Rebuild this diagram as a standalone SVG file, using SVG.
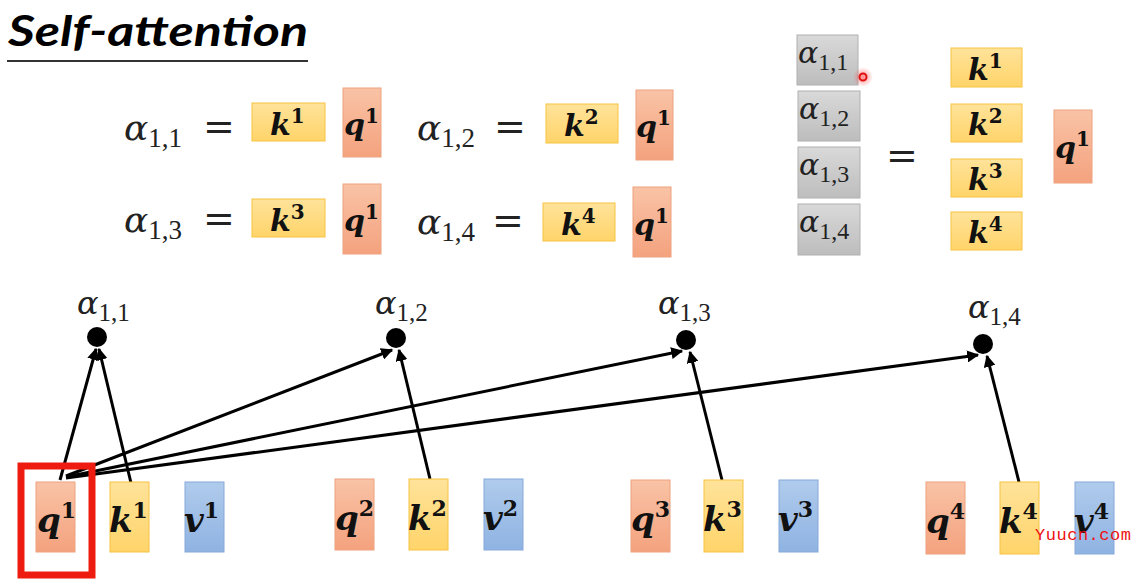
<svg xmlns="http://www.w3.org/2000/svg" width="1144" height="588" viewBox="0 0 1144 588">
<defs>
<linearGradient id="gq" x1="0" y1="0" x2="0" y2="1"><stop offset="0" stop-color="#f9c3a6"/><stop offset="1" stop-color="#f4a27e"/></linearGradient>
<linearGradient id="gk" x1="0" y1="0" x2="0" y2="1"><stop offset="0" stop-color="#ffe39a"/><stop offset="1" stop-color="#ffd46a"/></linearGradient>
<linearGradient id="gv" x1="0" y1="0" x2="0" y2="1"><stop offset="0" stop-color="#b0cbec"/><stop offset="1" stop-color="#8fb3e2"/></linearGradient>
<linearGradient id="gg" x1="0" y1="0" x2="0" y2="1"><stop offset="0" stop-color="#d9d9d9"/><stop offset="1" stop-color="#bdbdbd"/></linearGradient>
<radialGradient id="glow"><stop offset="0" stop-color="#ff4040" stop-opacity="0.6"/><stop offset="1" stop-color="#ff4040" stop-opacity="0"/></radialGradient>
<marker id="ah" viewBox="0 0 10 10" refX="9" refY="5" markerWidth="4" markerHeight="4" orient="auto"><path d="M0,0 L10,5 L0,10 z" fill="#000"/></marker>
</defs>
<style>
.q{fill:url(#gq);stroke:#eea27f;stroke-width:1}
.k{fill:url(#gk);stroke:#f6c342;stroke-width:1}
.v{fill:url(#gv);stroke:#86a9d9;stroke-width:1}
.g{fill:url(#gg);stroke:#b0b0b0;stroke-width:1}
.m{font-family:"DejaVu Serif","Liberation Serif",serif;font-weight:bold;font-style:italic;fill:#111}
.a{font-family:"DejaVu Serif","Liberation Serif",serif;font-style:italic;fill:#222}
.s{font-family:"Liberation Serif","DejaVu Serif",serif;font-style:normal;font-weight:normal}
.e{font-family:"DejaVu Sans",sans-serif;fill:#222}
.ln{stroke:#000;stroke-width:3;fill:none;marker-end:url(#ah)}
</style>
<rect width="1144" height="588" fill="#fff"/>

<g id="title">
<text x="8" y="46" font-family="Lato,'Open Sans',sans-serif" font-weight="bold" font-style="italic" font-size="42" fill="#000" textLength="300" lengthAdjust="spacingAndGlyphs">Self-attention</text>
<line x1="7" y1="61" x2="308" y2="61" stroke="#333" stroke-width="2"/>
</g>

<g id="eq1">
<text class="a" x="124" y="140" font-size="36">α<tspan class="s" font-size="27" dy="7">1,1</tspan></text>
<text class="e" x="203" y="139" font-size="38">=</text>
<rect class="k" x="252" y="103" width="73" height="38"/>
<text class="m" x="270" y="135" font-size="30">k<tspan font-size="20" dy="-12" font-style="normal">1</tspan></text>
<rect class="q" x="343" y="88" width="38" height="69"/>
<text class="m" x="344" y="135" font-size="30">q<tspan font-size="20" dy="-12" font-style="normal">1</tspan></text>
</g>
<g id="eq2">
<text class="a" x="417" y="140" font-size="36">α<tspan class="s" font-size="27" dy="7">1,2</tspan></text>
<text class="e" x="494" y="139" font-size="38">=</text>
<rect class="k" x="546" y="104" width="72" height="39"/>
<text class="m" x="564" y="136" font-size="30">k<tspan font-size="20" dy="-12" font-style="normal">2</tspan></text>
<rect class="q" x="636" y="90" width="37" height="70"/>
<text class="m" x="636" y="137" font-size="30">q<tspan font-size="20" dy="-12" font-style="normal">1</tspan></text>
</g>
<g id="eq3">
<text class="a" x="124" y="232" font-size="36">α<tspan class="s" font-size="27" dy="7">1,3</tspan></text>
<text class="e" x="203" y="231" font-size="38">=</text>
<rect class="k" x="252" y="199" width="73" height="38"/>
<text class="m" x="270" y="231" font-size="30">k<tspan font-size="20" dy="-12" font-style="normal">3</tspan></text>
<rect class="q" x="343" y="184" width="38" height="70"/>
<text class="m" x="344" y="231" font-size="30">q<tspan font-size="20" dy="-12" font-style="normal">1</tspan></text>
</g>
<g id="eq4">
<text class="a" x="417" y="234" font-size="36">α<tspan class="s" font-size="27" dy="7">1,4</tspan></text>
<text class="e" x="492" y="233" font-size="38">=</text>
<rect class="k" x="543" y="203" width="72" height="38"/>
<text class="m" x="561" y="235" font-size="30">k<tspan font-size="20" dy="-12" font-style="normal">4</tspan></text>
<rect class="q" x="633" y="187" width="38" height="70"/>
<text class="m" x="634" y="235" font-size="30">q<tspan font-size="20" dy="-12" font-style="normal">1</tspan></text>
</g>

<g id="matrix">
<rect class="g" x="797" y="35" width="61" height="50"/>
<text class="a" x="798" y="63" font-size="30">α<tspan class="s" font-size="24" dy="7">1,1</tspan></text>
<rect class="g" x="798" y="91" width="62" height="50"/>
<text class="a" x="799" y="119" font-size="30">α<tspan class="s" font-size="24" dy="7">1,2</tspan></text>
<rect class="g" x="798" y="147" width="62" height="51"/>
<text class="a" x="799" y="175" font-size="30">α<tspan class="s" font-size="24" dy="7">1,3</tspan></text>
<rect class="g" x="798" y="204" width="62" height="51"/>
<text class="a" x="799" y="232" font-size="30">α<tspan class="s" font-size="24" dy="7">1,4</tspan></text>
<text class="e" x="886" y="168" font-size="38">=</text>
<rect class="k" x="951" y="48" width="71" height="39"/>
<text class="m" x="968" y="80" font-size="30">k<tspan font-size="20" dy="-12" font-style="normal">1</tspan></text>
<rect class="k" x="951" y="104" width="71" height="38"/>
<text class="m" x="968" y="135" font-size="30">k<tspan font-size="20" dy="-12" font-style="normal">2</tspan></text>
<rect class="k" x="951" y="159" width="71" height="38"/>
<text class="m" x="968" y="190" font-size="30">k<tspan font-size="20" dy="-12" font-style="normal">3</tspan></text>
<rect class="k" x="951" y="212" width="71" height="38"/>
<text class="m" x="968" y="243" font-size="30">k<tspan font-size="20" dy="-12" font-style="normal">4</tspan></text>
<rect class="q" x="1054" y="110" width="38" height="73"/>
<text class="m" x="1055" y="158" font-size="30">q<tspan font-size="20" dy="-12" font-style="normal">1</tspan></text>
<circle cx="863" cy="77" r="10" fill="url(#glow)"/>
<circle cx="863" cy="77" r="3.5" fill="none" stroke="#e01010" stroke-width="2"/>
</g>

<g id="connectors">
<line class="ln" x1="60" y1="480" x2="96" y2="349"/>
<line class="ln" x1="131" y1="483" x2="99" y2="349"/>
<line class="ln" x1="66" y1="476" x2="392" y2="350"/>
<line class="ln" x1="66" y1="477" x2="682" y2="351"/>
<line class="ln" x1="66" y1="478" x2="978" y2="355"/>
<line class="ln" x1="430" y1="479" x2="399" y2="350"/>
<line class="ln" x1="722" y1="480" x2="690" y2="352"/>
<line class="ln" x1="1019" y1="482" x2="987" y2="356"/>
</g>

<g id="a11">
<circle cx="97" cy="337" r="10" fill="#000"/>
<text class="a" x="77" y="314" font-size="32">α<tspan class="s" font-size="25" dy="7">1,1</tspan></text>
</g>
<g id="a12">
<circle cx="396" cy="338" r="10" fill="#000"/>
<text class="a" x="375" y="314" font-size="32">α<tspan class="s" font-size="25" dy="7">1,2</tspan></text>
</g>
<g id="a13">
<circle cx="686" cy="340" r="10" fill="#000"/>
<text class="a" x="658" y="314" font-size="32">α<tspan class="s" font-size="25" dy="7">1,3</tspan></text>
</g>
<g id="a14">
<circle cx="983" cy="344" r="10" fill="#000"/>
<text class="a" x="968" y="318" font-size="32">α<tspan class="s" font-size="25" dy="7">1,4</tspan></text>
</g>

<g id="x1">
<rect x="21" y="466" width="71" height="109" fill="none" stroke="#ee1c10" stroke-width="7"/>
<rect class="q" x="36" y="482" width="39" height="70"/>
<text class="m" x="37" y="532" font-size="34">q<tspan font-size="22" dy="-14" font-style="normal">1</tspan></text>
<rect class="k" x="110" y="482" width="39" height="70"/>
<text class="m" x="109" y="532" font-size="34">k<tspan font-size="22" dy="-14" font-style="normal">1</tspan></text>
<rect class="v" x="185" y="482" width="39" height="70"/>
<text class="m" x="184" y="532" font-size="34">v<tspan font-size="22" dy="-14" font-style="normal">1</tspan></text>
</g>
<g id="x2">
<rect class="q" x="335" y="479" width="39" height="71"/>
<text class="m" x="335" y="530" font-size="34">q<tspan font-size="22" dy="-14" font-style="normal">2</tspan></text>
<rect class="k" x="409" y="479" width="39" height="71"/>
<text class="m" x="408" y="530" font-size="34">k<tspan font-size="22" dy="-14" font-style="normal">2</tspan></text>
<rect class="v" x="484" y="479" width="39" height="71"/>
<text class="m" x="483" y="530" font-size="34">v<tspan font-size="22" dy="-14" font-style="normal">2</tspan></text>
</g>
<g id="x3">
<rect class="q" x="631" y="480" width="39" height="72"/>
<text class="m" x="631" y="531" font-size="34">q<tspan font-size="22" dy="-14" font-style="normal">3</tspan></text>
<rect class="k" x="704" y="480" width="39" height="72"/>
<text class="m" x="703" y="531" font-size="34">k<tspan font-size="22" dy="-14" font-style="normal">3</tspan></text>
<rect class="v" x="779" y="480" width="39" height="72"/>
<text class="m" x="778" y="531" font-size="34">v<tspan font-size="22" dy="-14" font-style="normal">3</tspan></text>
</g>
<g id="x4">
<rect class="q" x="926" y="482" width="39" height="72"/>
<text class="m" x="926" y="533" font-size="34">q<tspan font-size="22" dy="-14" font-style="normal">4</tspan></text>
<rect class="k" x="1000" y="482" width="39" height="72"/>
<text class="m" x="999" y="533" font-size="34">k<tspan font-size="22" dy="-14" font-style="normal">4</tspan></text>
<rect class="v" x="1075" y="482" width="39" height="72"/>
<text class="m" x="1074" y="533" font-size="34">v<tspan font-size="22" dy="-14" font-style="normal">4</tspan></text>
</g>
<text x="1035" y="540" font-family="'Liberation Mono',monospace" font-size="17" fill="#ee1010" textLength="96">Yuucn.com</text>
</svg>
